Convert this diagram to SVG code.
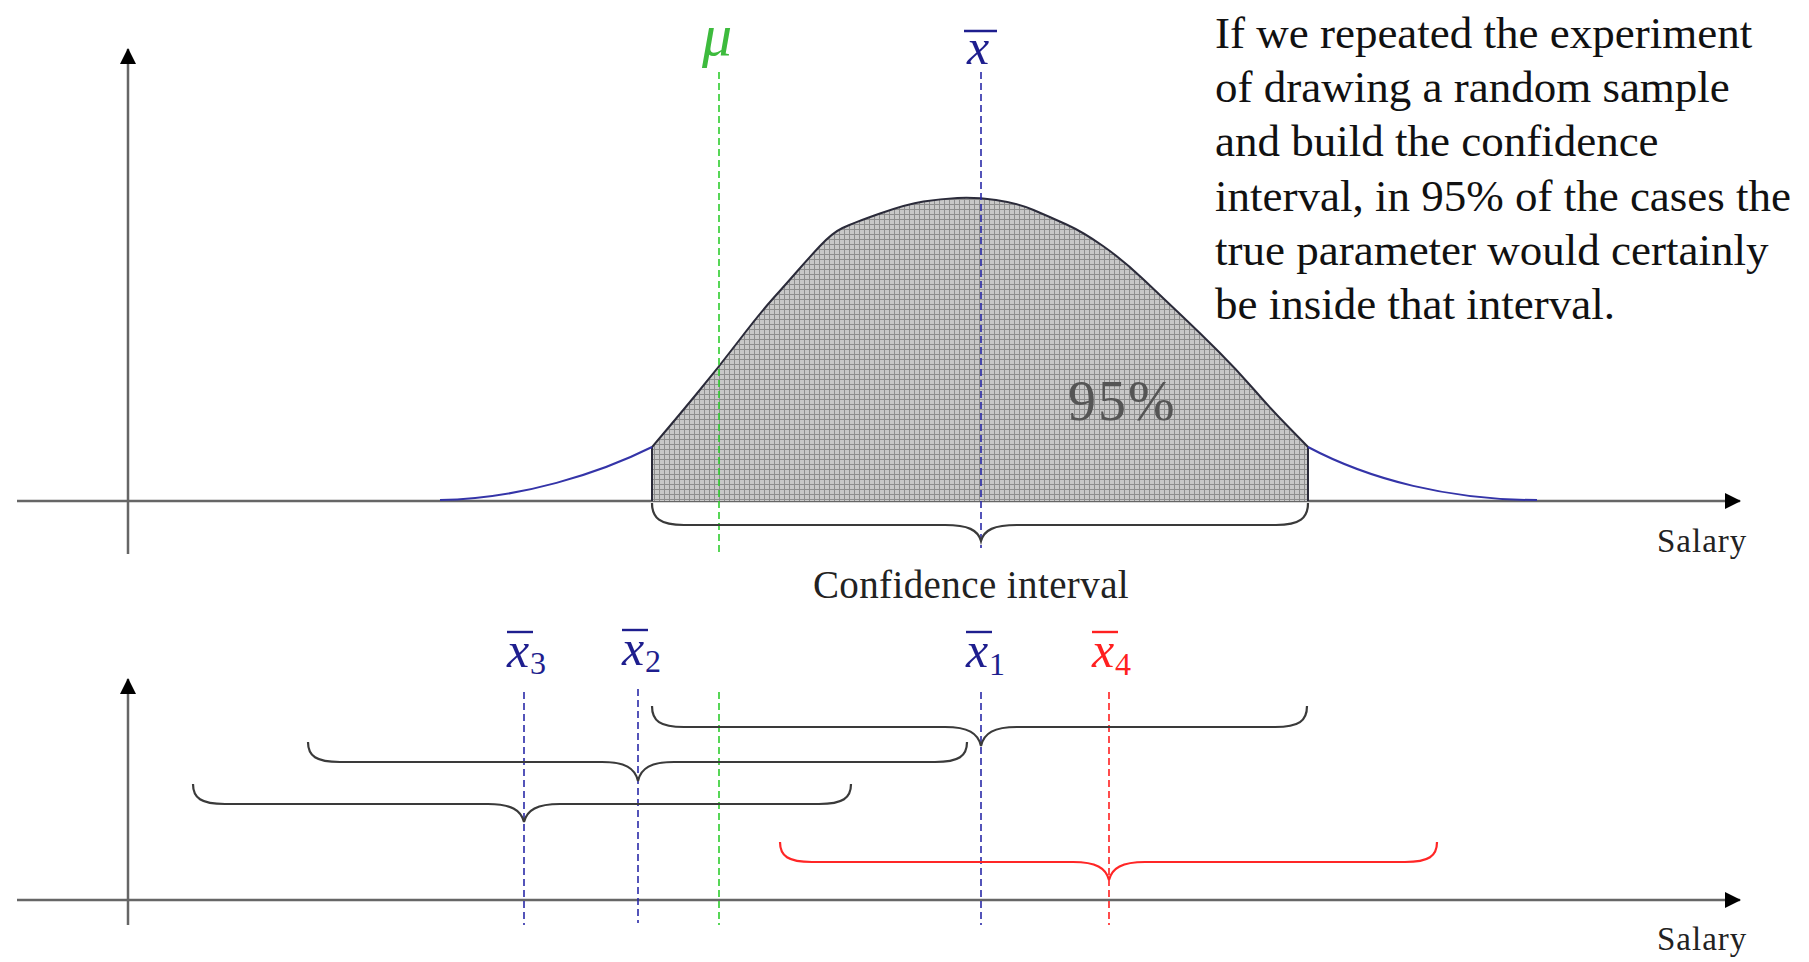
<svg xmlns="http://www.w3.org/2000/svg" width="1809" height="962" viewBox="0 0 1809 962">
  <style>
    .axis { stroke: #666; stroke-width: 2.5; fill: none; }
    .dash { stroke-width: 1.6; stroke-dasharray: 7 4; fill: none; }
    .green { stroke: #2ecc2e; }
    .blue { stroke: #2a2aa8; }
    .red { stroke: #ff2020; }
    .brace { stroke: #3a3a3a; stroke-width: 2.2; fill: none; }
    .brace-red { stroke: #ff2626; stroke-width: 2.2; fill: none; }
    .serif { font-family: "Liberation Serif", "Times New Roman", serif; }
    .para { font-size: 45px; fill: #111; }
    .axlab { font-size: 33px; fill: #222; letter-spacing: 1px; }
    .var { font-size: 50px; font-style: italic; }
    .sub { font-size: 32px; }
    .bar { stroke-width: 2.4; }
  </style>
  <defs>
    <pattern id="grid" width="5" height="5" patternUnits="userSpaceOnUse">
      <rect width="5" height="5" fill="#c8c8c8"/>
      <path d="M0,4.5 H5 M4.5,0 V5" stroke="#8e8e8e" stroke-width="1"/>
    </pattern>
    <marker id="arrow" viewBox="0 0 16 16" refX="15" refY="8" markerWidth="16" markerHeight="16" markerUnits="userSpaceOnUse" orient="auto">
      <path d="M0,0 L16,8 L0,16 Z" fill="#000"/>
    </marker>
  </defs>
  <rect width="1809" height="962" fill="#fff"/>

  <g id="top-axes">
    <line class="axis" x1="128" y1="554" x2="128" y2="49" marker-end="url(#arrow)"/>
    <line class="axis" x1="17" y1="501" x2="1740" y2="501" marker-end="url(#arrow)"/>
    <text class="serif axlab" x="1657" y="552">Salary</text>
  </g>

  <g id="distribution">
    <path d="M652,501 L652,447 L663.5,433.5 Q675,420 696.5,394 Q718,368 739,340.5 Q760,313 773.5,298 Q787,283 797,271.5 Q807,260 819.5,246.5 Q832,233 842.5,228 Q853,223 880,213.5 Q907,204 923.5,201.5 Q940,199 957.5,198 Q975,197 996,200 Q1017,203 1033.5,210 Q1050,217 1066.5,224.5 Q1083,232 1103,246 Q1123,260 1143,279 Q1163,298 1181.5,315.5 Q1200,333 1218.5,351.5 Q1237,370 1253.5,389 Q1270,408 1289,427.5 L1308,447 L1308,501 Z" fill="url(#grid)" stroke="none"/>
    <path d="M652,501 L652,447 L663.5,433.5 Q675,420 696.5,394 Q718,368 739,340.5 Q760,313 773.5,298 Q787,283 797,271.5 Q807,260 819.5,246.5 Q832,233 842.5,228 Q853,223 880,213.5 Q907,204 923.5,201.5 Q940,199 957.5,198 Q975,197 996,200 Q1017,203 1033.5,210 Q1050,217 1066.5,224.5 Q1083,232 1103,246 Q1123,260 1143,279 Q1163,298 1181.5,315.5 Q1200,333 1218.5,351.5 Q1237,370 1253.5,389 Q1270,408 1289,427.5 L1308,447 L1308,501" fill="none" stroke="#2b2b3a" stroke-width="2"/>
    <path d="M440,500 C520,499 600,473 652,447" fill="none" stroke="#3434a8" stroke-width="2"/>
    <path d="M1308,447 C1370,480 1450,500 1537,500" fill="none" stroke="#3434a8" stroke-width="2"/>
    <text class="serif" x="1068" y="420" font-size="56" fill="#555" letter-spacing="2">95%</text>
  </g>

  <g id="top-labels">
    <text class="serif" x="702" y="55" font-size="60" font-style="italic" fill="#3dbb3d">μ</text>
    <text class="serif var" x="967" y="64" fill="#1e1e8e">x</text>
    <line class="bar" x1="964" y1="31" x2="997" y2="31" stroke="#1e1e8e"/>
    <text class="serif" x="971" y="598" font-size="39" fill="#222" letter-spacing="0.4" text-anchor="middle">Confidence interval</text>
  </g>

  <g id="paragraph" class="serif para">
    <text x="1215" y="48">If we repeated the experiment</text>
    <text x="1215" y="102">of drawing a random sample</text>
    <text x="1215" y="156">and build the confidence</text>
    <text x="1215" y="211">interval, in 95% of the cases the</text>
    <text x="1215" y="265">true parameter would certainly</text>
    <text x="1215" y="319">be inside that interval.</text>
  </g>

  <g id="bottom-axes">
    <line class="axis" x1="128" y1="925" x2="128" y2="679" marker-end="url(#arrow)"/>
    <line class="axis" x1="17" y1="900" x2="1740" y2="900" marker-end="url(#arrow)"/>
    <text class="serif axlab" x="1657" y="950">Salary</text>
  </g>

  <g id="bottom-labels">
    <g id="label-x3" fill="#1e1e8e">
      <text class="serif var" x="507" y="667">x</text>
      <text class="serif sub" x="530" y="674">3</text>
      <line class="bar" x1="507" y1="632" x2="533" y2="632" stroke="#1e1e8e"/>
    </g>
    <g id="label-x2" fill="#1e1e8e">
      <text class="serif var" x="622" y="665">x</text>
      <text class="serif sub" x="645" y="672">2</text>
      <line class="bar" x1="622" y1="630" x2="648" y2="630" stroke="#1e1e8e"/>
    </g>
    <g id="label-x1" fill="#1e1e8e">
      <text class="serif var" x="966" y="667">x</text>
      <text class="serif sub" x="989" y="675">1</text>
      <line class="bar" x1="966" y1="632" x2="992" y2="632" stroke="#1e1e8e"/>
    </g>
    <g id="label-x4" fill="#ff2020">
      <text class="serif var" x="1092" y="667">x</text>
      <text class="serif sub" x="1115" y="675">4</text>
      <line class="bar" x1="1092" y1="632" x2="1118" y2="632" stroke="#ff2020"/>
    </g>
  </g>

  <g id="connectors">
    <line class="dash green" x1="719" y1="72" x2="719" y2="554"/>
    <line class="dash blue" x1="981" y1="72" x2="981" y2="548"/>
    <path class="brace" d="M652,503 C652,518 660,525 684,525 L945,525 C968,525 978,530 981,541 C984,530 994,525 1017,525 L1276,525 C1300,525 1308,518 1308,503"/>

    <line class="dash blue" x1="524" y1="692" x2="524" y2="925"/>
    <line class="dash blue" x1="638" y1="689" x2="638" y2="923"/>
    <line class="dash green" x1="719" y1="692" x2="719" y2="925"/>
    <line class="dash blue" x1="981" y1="692" x2="981" y2="925"/>
    <line class="dash red" x1="1109" y1="692" x2="1109" y2="925"/>

    <path class="brace" d="M652,706 C652,721 660,727 684,727 L945,727 C968,727 978,733 981,746 C984,733 994,727 1017,727 L1275,727 C1299,727 1307,721 1307,706"/>
    <path class="brace" d="M308,742 C308,756 316,762 340,762 L602,762 C625,762 635,768 638,781 C641,768 651,762 674,762 L935,762 C959,762 967,756 967,742"/>
    <path class="brace" d="M193,784 C193,798 201,804 225,804 L488,804 C511,804 521,810 524,822 C527,810 537,804 560,804 L819,804 C843,804 851,798 851,784"/>
    <path class="brace-red" d="M780,842 C780,856 788,862 812,862 L1073,862 C1096,862 1106,868 1109,880 C1112,868 1122,862 1145,862 L1405,862 C1429,862 1437,856 1437,842"/>
  </g>
</svg>
